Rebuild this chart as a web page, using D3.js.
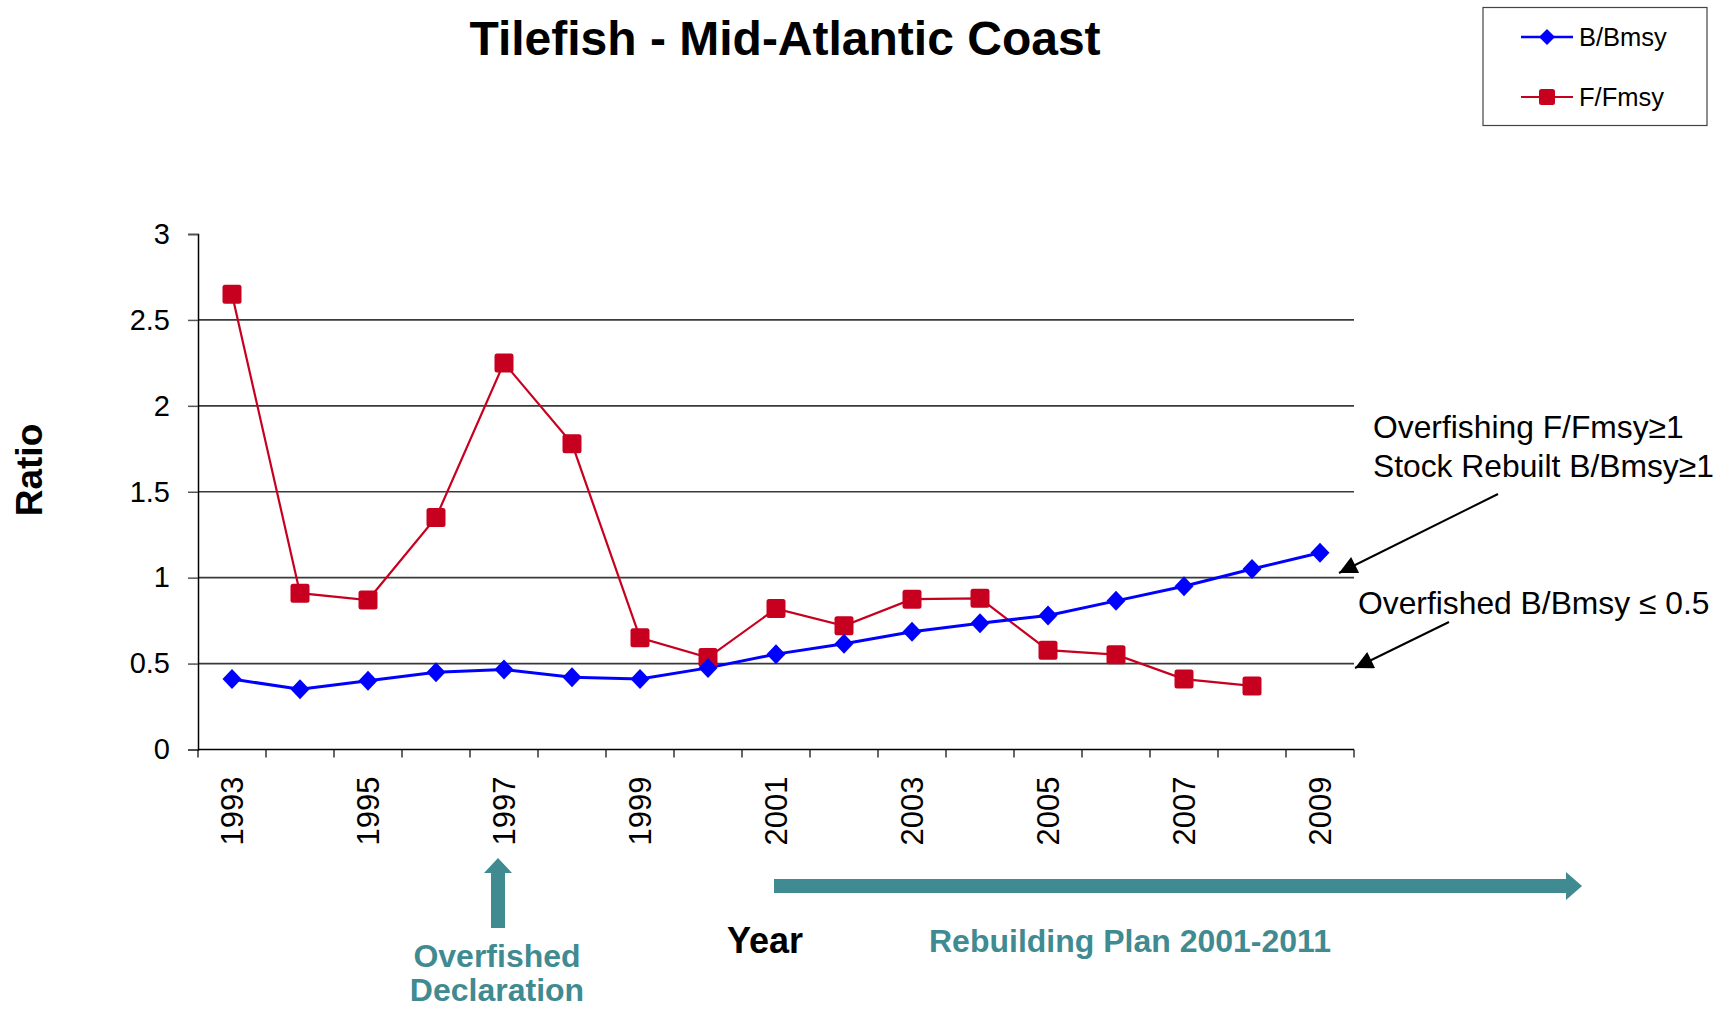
<!DOCTYPE html>
<html>
<head>
<meta charset="utf-8">
<script src="https://cdn.jsdelivr.net/npm/d3@7"></script>
<style>
  html, body { margin: 0; padding: 0; background: #fff; }
  svg { display: block; font-family: Arial, "Liberation Sans", sans-serif; }
</style>
</head>
<body>
<svg id="chart" width="1731" height="1010"></svg>
<script>
// ---- data ----
const years = ["1993","1994","1995","1996","1997","1998","1999","2000","2001","2002","2003","2004","2005","2006","2007","2008","2009"];
const bBmsy = [0.41, 0.35, 0.40, 0.45, 0.465, 0.42, 0.41, 0.475, 0.555, 0.615, 0.685, 0.735, 0.78, 0.865, 0.95, 1.05, 1.145];
const fFmsy = [2.65, 0.91, 0.87, 1.35, 2.25, 1.78, 0.65, 0.535, 0.82, 0.72, 0.875, 0.88, 0.578, 0.552, 0.41, 0.37, null];
const yTicks = [0, 0.5, 1, 1.5, 2, 2.5, 3];
const xLabelYears = ["1993","1995","1997","1999","2001","2003","2005","2007","2009"];
const seriesNames = ["B/Bmsy", "F/Fmsy"];

(function () {
const blue = "#0000ff", red = "#c8001f", teal = "#3f8b91";

const svg = d3.select("#chart");
const pL = 198, pR = 1354, pT = 234, pB = 749.5;

const x = d3.scaleBand().domain(years).range([pL, pR]).padding(0);
const y = d3.scaleLinear().domain([0, 3]).range([pB, pT]);

// defs: arrowheads
const defs = svg.append("defs");
defs.append("marker").attr("id", "ah2").attr("viewBox", "0 0 10 10")
  .attr("refX", 10).attr("refY", 5).attr("markerWidth", 26).attr("markerHeight", 18)
  .attr("markerUnits", "userSpaceOnUse").attr("orient", "auto")
  .append("path").attr("d", "M0,0 L10,5 L0,10 Z").attr("fill", "#000");

// gridlines
svg.append("g").selectAll("line").data(yTicks.filter(d => d > 0 && d < 3)).join("line")
  .attr("x1", pL).attr("x2", pR)
  .attr("y1", d => y(d)).attr("y2", d => y(d))
  .attr("stroke", "#3a3a3a").attr("stroke-width", 1.6);

// y axis
const yAxis = d3.axisLeft(y).tickValues(yTicks).tickFormat(d => String(d)).tickSize(10).tickPadding(18);
const gy = svg.append("g").attr("transform", `translate(${pL},0)`).call(yAxis);
gy.select(".domain").attr("stroke", "#000").attr("stroke-width", 1.5);
gy.selectAll(".tick line").attr("stroke", "#555").attr("stroke-width", 1.5);
gy.selectAll(".tick text").attr("font-size", 29).attr("fill", "#000")
  .attr("font-family", "Arial, 'Liberation Sans', sans-serif");

// x axis line and boundary ticks
const boundaries = years.map(d => x(d)).concat([pR]);
svg.append("line").attr("x1", pL).attr("x2", pR).attr("y1", pB).attr("y2", pB)
  .attr("stroke", "#000").attr("stroke-width", 1.5);
svg.append("g").selectAll("line").data(boundaries).join("line")
  .attr("x1", d => d).attr("x2", d => d).attr("y1", pB).attr("y2", pB + 8)
  .attr("stroke", "#000").attr("stroke-width", 1.2);
svg.append("g").selectAll("text").data(xLabelYears).join("text")
  .attr("transform", d => `translate(${x(d) + x.bandwidth() / 2},${pB + 27}) rotate(-90)`)
  .attr("text-anchor", "end").attr("dy", "0.36em")
  .attr("font-size", 31).attr("fill", "#000").text(d => d);

// lines
const cx = (i) => x(years[i]) + x.bandwidth() / 2;
const lineB = d3.line().x((d, i) => cx(i)).y(d => y(d));
const lineF = d3.line().defined(d => d !== null).x((d, i) => cx(i)).y(d => y(d));

svg.append("path").datum(fFmsy).attr("d", lineF).attr("fill", "none")
  .attr("stroke", red).attr("stroke-width", 2.2);
svg.append("path").datum(bBmsy).attr("d", lineB).attr("fill", "none")
  .attr("stroke", blue).attr("stroke-width", 3);

const diamond = (w, h) => `M0,${-h} L${w},0 L0,${h} L${-w},0 Z`;

svg.append("g").selectAll("rect").data(fFmsy.map((v, i) => ({v, i})).filter(d => d.v !== null)).join("rect")
  .attr("x", d => cx(d.i) - 9.5).attr("y", d => y(d.v) - 9.5)
  .attr("width", 19).attr("height", 19).attr("rx", 2.5)
  .attr("fill", red);
svg.append("g").selectAll("path").data(bBmsy).join("path")
  .attr("transform", (d, i) => `translate(${cx(i)},${y(d)})`)
  .attr("d", diamond(9.5, 10)).attr("fill", blue);

// title
svg.append("text").attr("x", 785).attr("y", 55).attr("text-anchor", "middle")
  .attr("font-size", 48).attr("font-weight", "bold").text("Tilefish - Mid-Atlantic Coast");

// legend
const lg = svg.append("g");
lg.append("rect").attr("x", 1483).attr("y", 7.5).attr("width", 224).attr("height", 118)
  .attr("fill", "#fff").attr("stroke", "#444").attr("stroke-width", 1.2);
const legY = [37, 97];
seriesNames.forEach((name, k) => {
  const col = k === 0 ? blue : red;
  lg.append("line").attr("x1", 1521).attr("x2", 1573).attr("y1", legY[k]).attr("y2", legY[k])
    .attr("stroke", col).attr("stroke-width", k === 0 ? 2.5 : 2.2);
  if (k === 0) {
    lg.append("path").attr("transform", `translate(1547,${legY[k]})`).attr("d", diamond(8, 8)).attr("fill", blue);
  } else {
    lg.append("rect").attr("x", 1547 - 8).attr("y", legY[k] - 8).attr("width", 16).attr("height", 16)
      .attr("rx", 2.5).attr("fill", red);
  }
  lg.append("text").attr("x", 1579).attr("y", legY[k] + 8.5).attr("font-size", 25.5).text(name);
});

// axis titles
svg.append("text").attr("transform", "translate(42,470) rotate(-90)").attr("text-anchor", "middle")
  .attr("font-size", 37).attr("font-weight", "bold").text("Ratio");
svg.append("text").attr("x", 727).attr("y", 953).attr("font-size", 36).attr("font-weight", "bold").text("Year");

// annotations
svg.append("text").attr("x", 1373).attr("y", 438).attr("font-size", 31.8).text("Overfishing F/Fmsy\u22651");
svg.append("text").attr("x", 1373).attr("y", 477).attr("font-size", 31.8).text("Stock Rebuilt B/Bmsy\u22651");
svg.append("text").attr("x", 1358).attr("y", 614).attr("font-size", 31.8).text("Overfished B/Bmsy \u2264 0.5");

svg.append("line").attr("x1", 1498).attr("y1", 494).attr("x2", 1339).attr("y2", 573)
  .attr("stroke", "#000").attr("stroke-width", 2).attr("marker-end", "url(#ah2)");
svg.append("line").attr("x1", 1449).attr("y1", 622).attr("x2", 1355).attr("y2", 668)
  .attr("stroke", "#000").attr("stroke-width", 2).attr("marker-end", "url(#ah2)");

// teal arrows and labels
svg.append("path").attr("d", "M491,928 L491,873 L484,873 L498,858 L512,873 L505,873 L505,928 Z").attr("fill", teal);
svg.append("path").attr("d", "M774,879 L1566,879 L1566,872 L1582,886 L1566,900 L1566,893 L774,893 Z").attr("fill", teal);

svg.append("text").attr("x", 497).attr("y", 967).attr("text-anchor", "middle").attr("font-size", 32)
  .attr("font-weight", "bold").attr("fill", teal).text("Overfished");
svg.append("text").attr("x", 497).attr("y", 1001).attr("text-anchor", "middle").attr("font-size", 32)
  .attr("font-weight", "bold").attr("fill", teal).text("Declaration");
svg.append("text").attr("x", 929).attr("y", 952).attr("font-size", 32)
  .attr("font-weight", "bold").attr("fill", teal).text("Rebuilding Plan 2001-2011");
})();
</script>
</body>
</html>
